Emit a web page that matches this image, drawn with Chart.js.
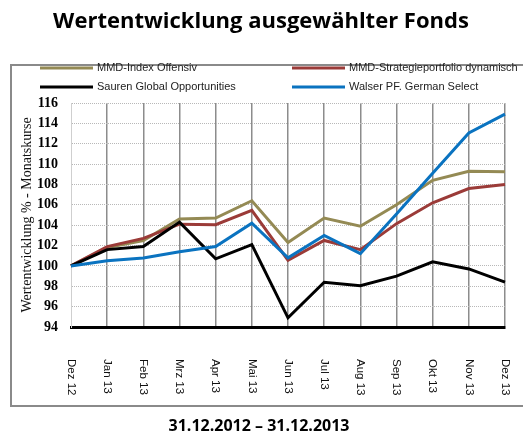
<!DOCTYPE html>
<html>
<head>
<meta charset="utf-8">
<script src="https://cdn.jsdelivr.net/npm/chart.js@4"></script>
<style>
  html, body { margin: 0; padding: 0; background: #fff; }
  canvas { display: block; }
</style>
</head>
<body>
<canvas id="fondsChart" width="523" height="434"></canvas>
<script>
// Wertentwicklung ausgewaehlter Fonds, 31.12.2012 - 31.12.2013

const months = ['Dez 12', 'Jan 13', 'Feb 13', 'Mrz 13', 'Apr 13', 'Mai 13', 'Jun 13',
                'Jul 13', 'Aug 13', 'Sep 13', 'Okt 13', 'Nov 13', 'Dez 13'];

const mmdIndexOffensiv = [100, 101.8, 102.5, 104.6, 104.7, 106.4, 102.3, 104.7, 103.9, 106.0, 108.4, 109.3, 109.25];
const mmdStrategieDynamisch = [100, 101.9, 102.7, 104.1, 104.05, 105.45, 100.55, 102.5, 101.6, 104.15, 106.2, 107.6, 108.0];
const saurenGlobal = [100, 101.6, 101.9, 104.3, 100.7, 102.1, 94.9, 98.4, 98.05, 99.0, 100.4, 99.7, 98.4];
const walserGermanSelect = [100, 100.5, 100.77, 101.4, 101.9, 104.2, 100.8, 103.0, 101.2, 105.1, 109.1, 113.05, 114.9];

const yMin = 94;
const yMax = 116;
const yStep = 2;

const chartTitle = 'Wertentwicklung ausgewählter Fonds';
const periodText = '31.12.2012 – 31.12.2013';
const yAxisTitle = 'Wertentwicklung % - Monatskurse';

// frame, title, legend and rotated month labels
const decorations = {
    id: 'decorations',
    beforeDraw(chart) {
        const ctx = chart.ctx;
        ctx.save();
        ctx.fillStyle = '#fff';
        ctx.fillRect(0, 0, chart.width, chart.height);

        ctx.strokeStyle = '#8a8a8a';
        ctx.lineWidth = 2;
        ctx.strokeRect(11, 65, 530, 341);

        ctx.fillStyle = '#000';
        ctx.textAlign = 'center';
        ctx.textBaseline = 'middle';
        ctx.font = 'bold 22px "Open Sans"';
        ctx.fillText(chartTitle, 261, 22);
        ctx.font = 'bold 16px "Open Sans"';
        ctx.fillText(periodText, 259, 426);

        // legend in two columns
        const cols = [40, 292];
        const rows = [68, 87];
        ctx.font = '11px "Liberation Sans"';
        ctx.textAlign = 'left';
        chart.data.datasets.forEach((ds, i) => {
            const x = cols[i % 2];
            const y = rows[Math.floor(i / 2)];
            ctx.strokeStyle = ds.borderColor;
            ctx.lineWidth = 3;
            ctx.beginPath();
            ctx.moveTo(x, y);
            ctx.lineTo(x + 53, y);
            ctx.stroke();
            ctx.fillStyle = '#222';
            ctx.fillText(ds.label, x + 57, y);
        });
        ctx.restore();
    },
    afterDraw(chart) {
        const ctx = chart.ctx;
        const xScale = chart.scales.x;
        ctx.save();
        ctx.fillStyle = '#111';
        ctx.font = '11.5px "Liberation Sans"';
        ctx.textAlign = 'left';
        ctx.textBaseline = 'middle';
        chart.data.labels.forEach((label, i) => {
            const x = xScale.getPixelForValue(i);
            ctx.save();
            ctx.translate(x, 359);
            ctx.rotate(Math.PI / 2);
            ctx.fillText(label, 0, 0);
            ctx.restore();
        });
        ctx.restore();
    }
};

function createFondsChart() {
    const ctx = document.getElementById('fondsChart').getContext('2d');
    return new Chart(ctx, {
        type: 'line',
        data: {
            labels: months,
            datasets: [{
                label: 'MMD-Index Offensiv',
                data: mmdIndexOffensiv,
                borderColor: '#948A54',
                order: 4
            }, {
                label: 'MMD-Strategieportfolio dynamisch',
                data: mmdStrategieDynamisch,
                borderColor: '#9B3B38',
                order: 3
            }, {
                label: 'Sauren Global Opportunities',
                data: saurenGlobal,
                borderColor: '#000000',
                order: 2
            }, {
                label: 'Walser PF. German Select',
                data: walserGermanSelect,
                borderColor: '#0A73C0',
                order: 1
            }]
        },
        options: {
            responsive: false,
            animation: false,
            elements: {
                line: { borderWidth: 3, tension: 0, borderJoinStyle: 'miter' },
                point: { radius: 0, hoverRadius: 0 }
            },
            layout: {
                padding: { top: 103, right: 18, left: 0, bottom: 0 }
            },
            scales: {
                x: {
                    afterFit(scale) { scale.height = 107; },
                    ticks: { display: false },
                    grid: {
                        drawTicks: false,
                        color: (c) => c.index === 0 ? 'rgba(0,0,0,0)' : '#8c8c8c',
                        lineWidth: 1.5
                    },
                    border: { display: true, color: '#000', width: 3 }
                },
                y: {
                    min: yMin,
                    max: yMax,
                    afterFit(scale) { scale.width = 71; },
                    ticks: {
                        stepSize: yStep,
                        padding: 13,
                        color: '#000',
                        font: { family: '"Liberation Serif"', size: 14, weight: 'bold' }
                    },
                    grid: {
                        drawTicks: false,
                        color: '#b8b8b8',
                        lineWidth: 1
                    },
                    border: { display: true, color: '#cfcfcf', width: 1, dash: [1, 1] },
                    title: {
                        display: true,
                        text: yAxisTitle,
                        color: '#111',
                        padding: { top: 19, bottom: 0 },
                        font: { family: '"Liberation Serif"', size: 14 }
                    }
                }
            },
            plugins: {
                legend: { display: false },
                title: { display: false },
                tooltip: { enabled: false }
            }
        },
        plugins: [decorations]
    });
}

createFondsChart();
</script>
</body>
</html>
